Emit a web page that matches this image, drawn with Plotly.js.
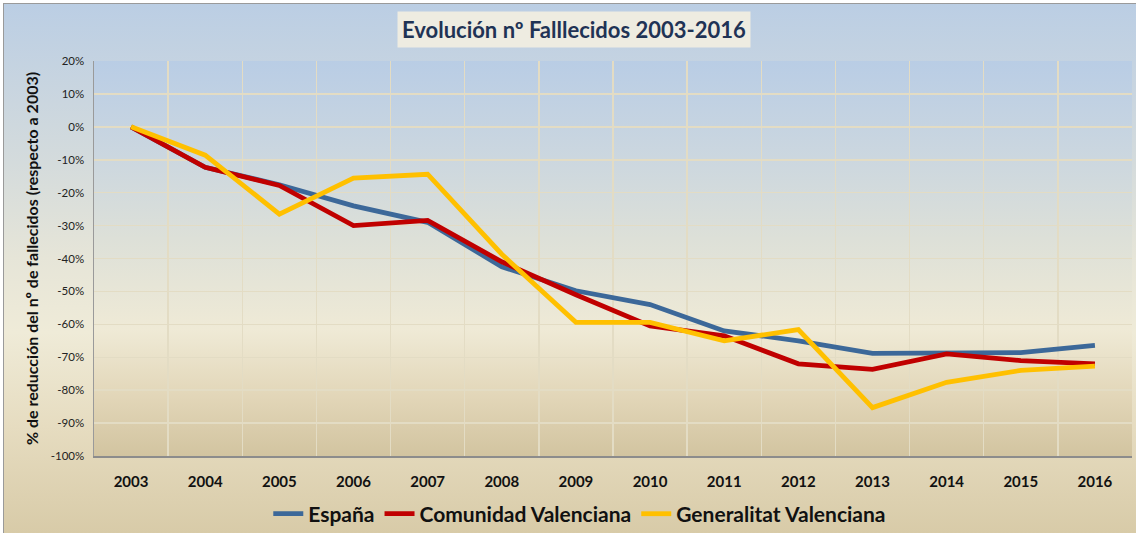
<!DOCTYPE html>
<html>
<head>
<meta charset="utf-8">
<script src="https://cdn.plot.ly/plotly-3.0.1.min.js"></script>
<style>
html,body{margin:0;padding:0;width:1136px;height:533px;overflow:hidden;background:#fff;}
#wrap{position:absolute;left:3px;top:3px;width:1133px;height:530px;
  border-left:1px solid #9a9a9a;border-top:1px solid #9a9a9a;box-sizing:border-box;
  background:linear-gradient(to bottom,#bbcee4 0%,#d4dbdc 30%,#e6e5d8 48%,#efebd8 62%,#e6dcc0 80%,#d8cba8 100%);}
#plotbg{position:absolute;left:94px;top:61px;width:1038px;height:395px;
  background:linear-gradient(to bottom,#b9cde5 0%,#ccd7df 25%,#dde0d8 45%,#efead6 68%,#e2d6b8 85%,#d2c4a0 100%);}
#chart{position:absolute;left:0;top:0;width:1136px;height:533px;}
</style>
</head>
<body>
<div id="wrap"></div>
<div id="plotbg"></div>
<div id="chart"></div>
<script>
var years = ['2003','2004','2005','2006','2007','2008','2009','2010','2011','2012','2013','2014','2015','2016'];
var espana = [0, -12.3, -17.6, -24, -29, -42.5, -49.8, -54, -62, -65, -68.8, -68.6, -68.6, -66.4];
var comunidad = [0, -12.3, -17.8, -30, -28.4, -41, -51, -60.5, -63.5, -72, -73.7, -69, -71, -72];
var generalitat = [0, -8.6, -26.5, -15.6, -14.4, -38.7, -59.4, -59.4, -65, -61.6, -85.3, -77.6, -74, -72.7];
var yTicks = [20,10,0,-10,-20,-30,-40,-50,-60,-70,-80,-90,-100];
var yTickText = yTicks.map(function(v){return v+'%';});

function tr(name, vals, color){
  return {x: years, y: vals, name: name, type: 'scatter', mode: 'lines',
    line: {color: color, width: 4.8}};
}
var data = [
  tr('España', espana, '#3c6899'),
  tr('Comunidad Valenciana', comunidad, '#c00000'),
  tr('Generalitat Valenciana', generalitat, '#ffc000')
];
var layout = {
  width: 1136, height: 533,
  margin: {l: 94, r: 4, t: 61, b: 77, autoexpand: false},
  paper_bgcolor: 'rgba(0,0,0,0)',
  plot_bgcolor: 'rgba(0,0,0,0)',
  font: {family: 'Lato, "Open Sans", sans-serif', color: '#000'},
  showlegend: true,
  legend: {orientation: 'h', x: 0.468, xanchor: 'center', y: -0.147, yanchor: 'middle',
    font: {size: 21, family: 'Lato, sans-serif', weight: 'bold', color: '#111'},
    itemwidth: 30, bgcolor: 'rgba(0,0,0,0)'},
  xaxis: {type: 'category', range: [-0.5, 13.5], tickson: 'boundaries',
    showgrid: true, gridcolor: '#e3dcc4', gridwidth: 1.5, ticks: '',
    showline: true, linecolor: '#8c8c8c', linewidth: 1.5,
    ticklabelstandoff: 11,
    tickfont: {size: 15, family: 'Lato, sans-serif', weight: 'bold', color: '#111'},
    zeroline: false, fixedrange: true},
  yaxis: {range: [-100, 20], tickvals: yTicks, ticktext: yTickText,
    showgrid: true, gridcolor: '#e3dcc4', gridwidth: 1.5, ticks: '',
    showline: true, linecolor: '#9a9a9a', linewidth: 1.5, zeroline: false,
    ticklabelstandoff: 6,
    tickfont: {size: 11.5, family: 'Lato, sans-serif', color: '#222'},
    title: {text: '% de reducción del nº de fallecidos (respecto a 2003)',
      font: {size: 16, family: 'Lato, sans-serif', weight: 'bold', color: '#111'}, standoff: 8},
    fixedrange: true},
  annotations: [{
    text: 'Evolución nº Falllecidos 2003-2016', xref: 'paper', yref: 'paper',
    x: 0.462, y: 1.0, yshift: 32, xanchor: 'center', yanchor: 'middle', showarrow: false,
    font: {size: 22, family: 'Lato, sans-serif', weight: 'bold', color: '#1f3355'},
    bgcolor: '#eeece1', borderpad: 4
  }]
};
Plotly.newPlot('chart', data, layout, {displayModeBar: false, staticPlot: true});
</script>
</body>
</html>
